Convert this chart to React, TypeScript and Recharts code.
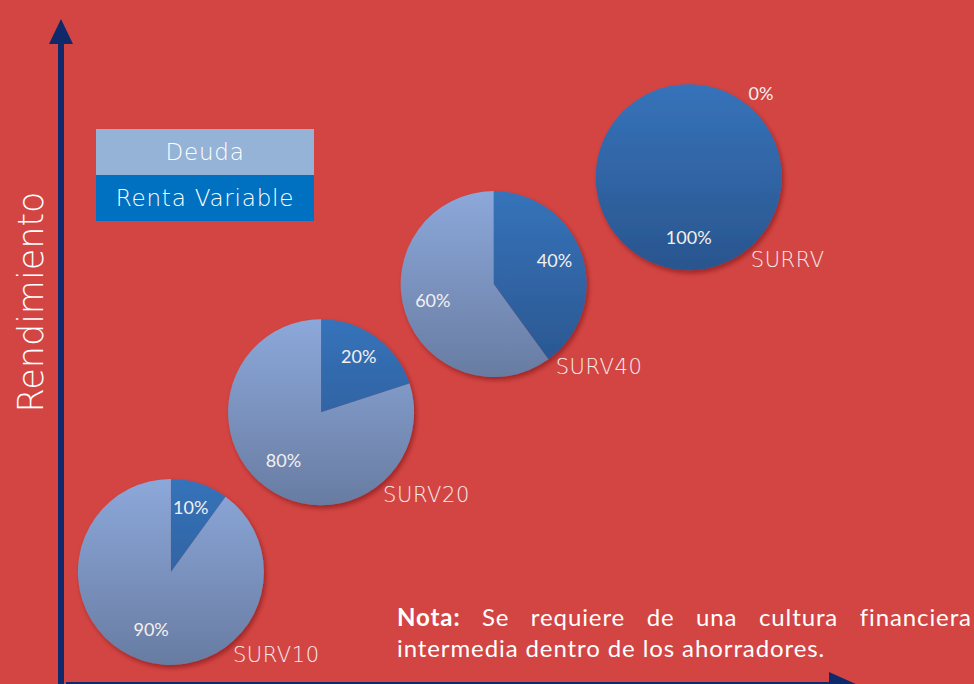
import {ScatterChart, Scatter, XAxis, YAxis, Legend, Sector} from 'recharts';

// fondos y composición (%)
const fondos = ['SURV10', 'SURV20', 'SURV40', 'SURRV'];
const deuda = [90, 80, 60, 0];
const rentaVariable = [10, 20, 40, 100];
// ubicación en el plano riesgo / rendimiento (0-100)
const riesgo = [14.2, 33.6, 55.9, 81.1];
const rendimiento = [17.4, 42.2, 62.1, 78.7];
const series = ['Deuda', 'Renta Variable'];

const BG = '#D34543';
const NAVY = '#10296B';
const R = 93;

const data = fondos.map((name, i) => ({
  name,
  x: riesgo[i],
  y: rendimiento[i],
  deuda: deuda[i],
  renta: rentaVariable[i],
}));

const rad = (a: number) => (a * Math.PI) / 180;

const PieMark = (props: any) => {
  const {cx, cy, payload} = props;
  if (cx == null || cy == null) return null;
  const id = payload.name;
  const rentaEnd = 90 - 3.6 * payload.renta;
  const slices = [
    {key: 'renta', value: payload.renta, start: 90, end: rentaEnd},
    {key: 'deuda', value: payload.deuda, start: rentaEnd, end: -270},
  ];

  return (
    <g>
      <defs>
        <linearGradient id={`g-deuda-${id}`} gradientUnits="userSpaceOnUse" x1={cx} y1={cy - R} x2={cx} y2={cy + R}>
          <stop offset="0%" stopColor="#8CA8DA"/>
          <stop offset="100%" stopColor="#687CA2"/>
        </linearGradient>
        <linearGradient id={`g-renta-${id}`} gradientUnits="userSpaceOnUse" x1={cx} y1={cy - R} x2={cx} y2={cy + R}>
          <stop offset="0%" stopColor="#3673BA"/>
          <stop offset="100%" stopColor="#2A558E"/>
        </linearGradient>
        <filter id={`sh-${id}`} x="-20%" y="-20%" width="140%" height="140%">
          <feDropShadow dx="2" dy="3" stdDeviation="2.5" floodColor="#5a1010" floodOpacity="0.45"/>
        </filter>
      </defs>
      <g filter={`url(#sh-${id})`}>
        {slices.filter((s) => s.value > 0).map((s) => (
          <Sector
            key={s.key}
            cx={cx}
            cy={cy}
            innerRadius={0}
            outerRadius={R}
            startAngle={s.start}
            endAngle={s.end}
            fill={`url(#g-${s.key}-${id})`}
            stroke="none"
          />
        ))}
      </g>
      {slices.map((s) => {
        const mid = s.value > 0 ? (s.start + s.end) / 2 : 48;
        const dist = s.value > 0 ? 64 : 108;
        return (
          <text
            key={`l-${s.key}`}
            x={cx + dist * Math.cos(rad(mid))}
            y={cy - dist * Math.sin(rad(mid)) - 4}
            textAnchor="middle"
            dominantBaseline="central"
            fontFamily="Lato, sans-serif"
            fontSize={18}
            fill="#F4F0F0"
          >
            {s.value}%
          </text>
        );
      })}
      <text
        x={cx + 62}
        y={cy + 90}
        fontFamily="'DejaVu Sans', sans-serif"
        fontWeight={300}
        fontSize={21}
        letterSpacing={0.6}
        fill="#F6ECEC"
      >
        {payload.name}
      </text>
    </g>
  );
};

const legendColors = ['#95B3D7', '#0070C0'];

const LegendBox = () => (
  <div style={{width: 218}}>
    {series.map((s, i) => (
      <div
        key={s}
        style={{
          height: 46,
          lineHeight: '46px',
          background: legendColors[i],
          color: '#FFFFFF',
          textAlign: 'center',
          fontFamily: "'DejaVu Sans', sans-serif",
          fontWeight: 300,
          fontSize: 23,
          letterSpacing: 0.8,
        }}
      >
        {s}
      </div>
    ))}
  </div>
);

const notaStyle = {
  fontFamily: 'Lato, sans-serif',
  fontSize: 24,
  lineHeight: '31px',
  letterSpacing: 0.9,
  color: '#FFFFFF',
  whiteSpace: 'nowrap' as const,
};

export default function App() {
  return (
    <div style={{position: 'absolute', left: 0, top: 0, width: 974, height: 684, background: BG, overflow: 'hidden'}}>
      <ScatterChart width={974} height={684} margin={{top: 40, right: 139, bottom: 0, left: 61}}>
        <XAxis type="number" dataKey="x" domain={[0, 100]} hide/>
        <YAxis type="number" dataKey="y" domain={[0, 100]} hide/>
        <Legend
          layout="vertical"
          align="center"
          verticalAlign="middle"
          content={() => <LegendBox/>}
          wrapperStyle={{left: 96, top: 129, width: 218}}
        />
        <Scatter data={data} shape={PieMark} isAnimationActive={false}/>
      </ScatterChart>

      {/* ejes con flecha */}
      <svg width={974} height={684} style={{position: 'absolute', left: 0, top: 0, pointerEvents: 'none'}}>
        <line x1={61} y1={40} x2={61} y2={684} stroke={NAVY} strokeWidth={6}/>
        <line x1={66} y1={685} x2={835} y2={685} stroke={NAVY} strokeWidth={6}/>
        <polygon points="61,19 49,44 73,44" fill={NAVY}/>
        <polygon points="829,672 858,685 829,698" fill={NAVY}/>
      </svg>

      <div
        style={{
          position: 'absolute',
          left: 31,
          top: 302,
          transform: 'translate(-50%, -50%) rotate(-90deg)',
          whiteSpace: 'nowrap',
          fontFamily: "'DejaVu Sans', sans-serif",
          fontWeight: 200,
          fontSize: 35,
          color: '#FFFFFF',
        }}
      >
        Rendimiento
      </div>

      {/* nota al pie */}
      <div style={{position: 'absolute', left: 397, top: 601, width: 575, display: 'flex', justifyContent: 'space-between', ...notaStyle}}>
        <b>Nota:</b>
        {'Se requiere de una cultura financiera'.split(' ').map((w) => (
          <span key={w}>{w}</span>
        ))}
      </div>
      <div style={{position: 'absolute', left: 397, top: 632, ...notaStyle}}>
        intermedia dentro de los ahorradores.
      </div>
    </div>
  );
}
